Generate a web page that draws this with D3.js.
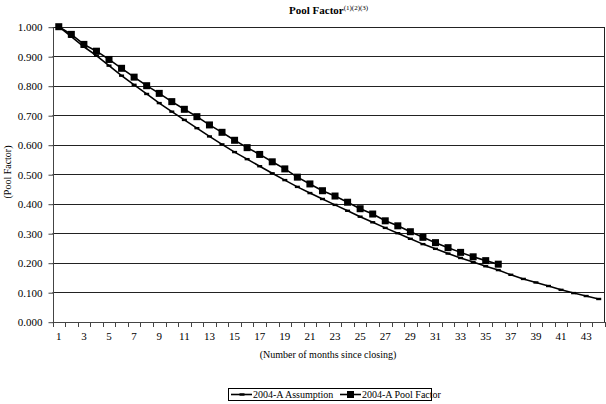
<!DOCTYPE html>
<html><head><meta charset="utf-8">
<script src="https://cdn.jsdelivr.net/npm/d3@7"></script>
<style>body{margin:0;background:#fff}svg{display:block}text{font-family:"Liberation Serif","Times New Roman",serif;fill:#000}</style>
</head><body>
<svg id="c" width="606" height="404"></svg>
<script>
const months = d3.range(1, 45);
const yTicks = [0,0.1,0.2,0.3,0.4,0.5,0.6,0.7,0.8,0.9,1.0];
const assumption = [1.000,0.966,0.932,0.902,0.868,0.834,0.803,0.772,0.741,0.712,0.684,0.656,0.628,0.601,0.575,0.551,0.527,0.503,0.480,0.457,0.436,0.416,0.396,0.376,0.356,0.337,0.318,0.300,0.281,0.263,0.247,0.231,0.216,0.202,0.188,0.175,0.159,0.145,0.133,0.121,0.108,0.097,0.087,0.077];
const poolFactor = [1.000,0.974,0.940,0.917,0.889,0.859,0.829,0.800,0.774,0.746,0.720,0.695,0.667,0.642,0.615,0.590,0.567,0.542,0.518,0.490,0.467,0.444,0.426,0.405,0.383,0.365,0.342,0.325,0.305,0.286,0.268,0.251,0.235,0.220,0.207,0.195];
const seriesNames = ["2004-A Assumption","2004-A Pool Factor"];

const svg = d3.select("#c");
const L = 52.5, R = 605, T = 26.7, B = 321.7;
const x = d3.scaleBand().domain(months).range([L, R]);
const y = d3.scaleLinear().domain([0, 1]).range([B, T]);
const cx = m => x(m) + x.bandwidth()/2;

// gridlines
svg.append("g").selectAll("line").data(yTicks.filter(d=>d>0)).join("line")
  .attr("x1", L).attr("x2", R).attr("y1", d=>Math.round(y(d))+0.5).attr("y2", d=>Math.round(y(d))+0.5)
  .attr("stroke", "#222").attr("stroke-width", 1);
// right border
svg.append("line").attr("x1", R-0.5).attr("x2", R-0.5).attr("y1", Math.round(T)+0.5).attr("y2", Math.round(B)+0.5)
  .attr("stroke", "#222");

// y axis
const yAxis = d3.axisLeft(y).tickValues(yTicks).tickFormat(d3.format(".3f")).tickSize(5).tickPadding(6);
const gy = svg.append("g").attr("transform", `translate(${Math.round(L)+0.5},0.5)`).call(yAxis);
gy.selectAll("text").style("font-size","11px").attr("font-family","Liberation Serif");
gy.select(".domain").attr("stroke","#444").attr("d", `M0,${Math.round(T)}V${Math.round(B)}`);
gy.selectAll(".tick line").attr("stroke","#444");

// x axis
const xAxis = d3.axisBottom(x).tickValues(months.filter(m=>m%2===1)).tickSize(0).tickPadding(10);
const gx = svg.append("g").attr("transform", `translate(0,${Math.round(B)+0.5})`).call(xAxis);
gx.selectAll("text").style("font-size","11px").attr("font-family","Liberation Serif");
gx.select(".domain").attr("stroke","#444").attr("d", `M${L},0H${R}`);
// category boundary ticks
svg.append("g").selectAll("line").data(months.concat([45])).join("line")
  .attr("x1", (m,i)=>Math.round(i<44 ? x(m) : R)+0.5).attr("x2", (m,i)=>Math.round(i<44 ? x(m) : R)+0.5)
  .attr("y1", Math.round(B)).attr("y2", Math.round(B)+5).attr("stroke","#444");

// lines
const line = d3.line().x((d,i)=>cx(months[i])).y(d=>y(d));
svg.append("path").datum(assumption).attr("d", line).attr("fill","none").attr("stroke","#000").attr("stroke-width",1.6);
svg.append("g").selectAll("rect").data(assumption).join("rect")
  .attr("x",(d,i)=>cx(months[i])-2.5).attr("y",d=>y(d)-1.2).attr("width",5).attr("height",2.4).attr("fill","#000");
svg.append("path").datum(poolFactor).attr("d", line).attr("fill","none").attr("stroke","#000").attr("stroke-width",1.6);
svg.append("g").selectAll("rect").data(poolFactor).join("rect")
  .attr("x",(d,i)=>cx(months[i])-3.5).attr("y",d=>y(d)-3.5).attr("width",7).attr("height",7).attr("fill","#000");

// titles
const title = svg.append("text").attr("x", 289).attr("y", 14).attr("text-anchor","start")
  .style("font-size","11px").style("font-weight","bold");
title.append("tspan").text("Pool Factor");
title.append("tspan").attr("dy",-4).style("font-size","7px").style("font-weight","normal").text("(1)(2)(3)");

svg.append("text").attr("transform","translate(11,172) rotate(-90)").attr("text-anchor","middle")
  .style("font-size","10px").text("(Pool Factor)");
svg.append("text").attr("x", 328).attr("y", 358).attr("text-anchor","middle")
  .style("font-size","10px").text("(Number of months since closing)");

// legend
const lg = svg.append("g");
lg.append("rect").attr("x",228.5).attr("y",388.5).attr("width",203).attr("height",12).attr("fill","#fff").attr("stroke","#000");
lg.append("line").attr("x1",231).attr("x2",252).attr("y1",394.5).attr("y2",394.5).attr("stroke","#000").attr("stroke-width",1.6);
lg.append("rect").attr("x",239.5).attr("y",393.3).attr("width",5).attr("height",2.4).attr("fill","#000");
lg.append("text").attr("x",253).attr("y",398).style("font-size","10px").text(seriesNames[0]);
lg.append("line").attr("x1",340).attr("x2",361).attr("y1",394.5).attr("y2",394.5).attr("stroke","#000").attr("stroke-width",1.6);
lg.append("rect").attr("x",347).attr("y",391).attr("width",7).attr("height",7).attr("fill","#000");
lg.append("text").attr("x",362).attr("y",398).style("font-size","10px").text(seriesNames[1]);
</script>
</body></html>
